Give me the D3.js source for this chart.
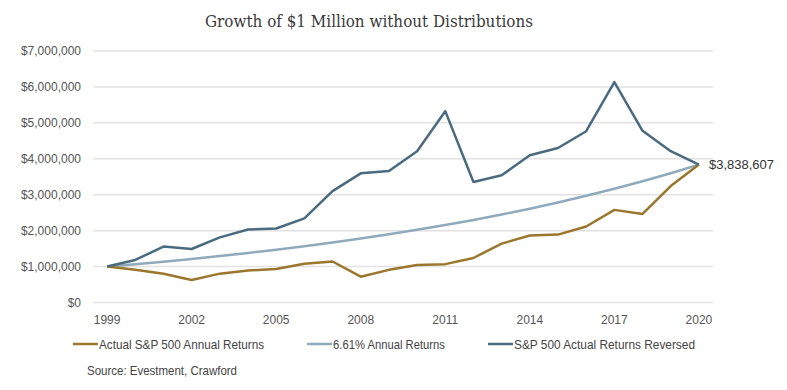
<!DOCTYPE html>
<html>
<head>
<meta charset="utf-8">
<script src="https://cdn.jsdelivr.net/npm/d3@7"></script>
<style>
  body { margin: 0; background: #fff; }
  svg { display: block; }
</style>
</head>
<body>
<div id="chart"></div>
<script>
// years on the x axis
var years = [1999, 2000, 2001, 2002, 2003, 2004, 2005, 2006, 2007, 2008, 2009,
             2010, 2011, 2012, 2013, 2014, 2015, 2016, 2017, 2018, 2019, 2020];

// growth of $1M
var actualReturns = [1000000, 909000, 800900, 623900, 802900, 890200, 933900, 1081400,
                     1140800, 718700, 908800, 1045700, 1067800, 1238600, 1639800, 1864300,
                     1890000, 2116100, 2578000, 2465100, 3241400, 3838607];
var flatReturns = [1000000, 1066100, 1136600, 1211700, 1291800, 1377200, 1468200, 1565300,
                   1668800, 1779100, 1896700, 2022000, 2155700, 2298200, 2450100, 2612100,
                   2784700, 2968800, 3165100, 3374300, 3597300, 3838607];
var reversedReturns = [1000000, 1184000, 1556800, 1488600, 1813600, 2030500, 2058600, 2340400,
                       3098400, 3594200, 3660000, 4211200, 5325500, 3355100, 3539300, 4098100,
                       4299300, 4767100, 6134300, 4778600, 4210400, 3838607];

var seriesNames = ["Actual S&P 500 Annual Returns", "6.61% Annual Returns", "S&P 500 Actual Returns Reversed"];
var seriesColors = ["#9b762d", "#8faabb", "#4a6a80"];
var yTicks = [0, 1000000, 2000000, 3000000, 4000000, 5000000, 6000000, 7000000];
var xTicks = [1999, 2002, 2005, 2008, 2011, 2014, 2017, 2020];
var endLabel = "$3,838,607";

var width = 787, height = 390;

var svg = d3.select("#chart").append("svg")
    .attr("width", width)
    .attr("height", height);

var x = d3.scalePoint()
    .domain(years)
    .range([93, 713])
    .padding(0.5);

var y = d3.scaleLinear()
    .domain([0, 7000000])
    .range([302.5, 51]);

// title
svg.append("text")
    .attr("x", 369)
    .attr("y", 27)
    .attr("text-anchor", "middle")
    .style("font-family", "'DejaVu Serif', 'Liberation Serif', serif")
    .style("font-size", "16.5px")
    .style("fill", "#3a3a3a")
    .attr("textLength", 328)
    .attr("lengthAdjust", "spacingAndGlyphs")
    .text("Growth of $1 Million without Distributions");

// gridlines
svg.append("g")
    .selectAll("line")
    .data(yTicks)
    .enter().append("line")
    .attr("x1", 93)
    .attr("x2", 713)
    .attr("y1", function(d) { return y(d); })
    .attr("y2", function(d) { return y(d); })
    .style("stroke", "#e2e2e2")
    .style("stroke-width", 1.5);

// y axis labels
var fmt = d3.format("$,");
svg.append("g")
    .selectAll("text")
    .data(yTicks)
    .enter().append("text")
    .attr("x", 81)
    .attr("y", function(d) { return y(d); })
    .attr("dy", "0.35em")
    .attr("text-anchor", "end")
    .style("font-family", "'Liberation Sans', Arial, sans-serif")
    .style("font-size", "12px")
    .style("fill", "#555")
    .text(function(d) { return fmt(d); });

// x axis labels
svg.append("g")
    .selectAll("text")
    .data(xTicks)
    .enter().append("text")
    .attr("x", function(d) { return x(d); })
    .attr("y", 320)
    .attr("dy", "0.35em")
    .attr("text-anchor", "middle")
    .style("font-family", "'Liberation Sans', Arial, sans-serif")
    .style("font-size", "12px")
    .style("fill", "#555")
    .text(function(d) { return d; });

// lines
var line = d3.line()
    .x(function(d, i) { return x(years[i]); })
    .y(function(d) { return y(d); });

var allSeries = [actualReturns, flatReturns, reversedReturns];
var drawOrder = [1, 0, 2];

drawOrder.forEach(function(k) {
    svg.append("path")
        .datum(allSeries[k])
        .attr("d", line)
        .style("fill", "none")
        .style("stroke", seriesColors[k])
        .style("stroke-width", 2.5)
        .style("stroke-linejoin", "round");
});

// end value label
svg.append("text")
    .attr("x", 709)
    .attr("y", y(3838607))
    .attr("dy", "0.35em")
    .style("font-family", "'Liberation Sans', Arial, sans-serif")
    .style("font-size", "13px")
    .style("fill", "#333")
    .text(endLabel);

// legend
var legendX = [73, 307, 488];
var legendW = [165, 112, 181];
var legend = svg.append("g")
    .selectAll("g")
    .data(seriesNames)
    .enter().append("g")
    .attr("transform", function(d, i) { return "translate(" + legendX[i] + ",344)"; });

legend.append("line")
    .attr("x1", 0)
    .attr("x2", 25)
    .style("stroke", function(d, i) { return seriesColors[i]; })
    .style("stroke-width", 2.5);

legend.append("text")
    .attr("x", 26)
    .attr("dy", "0.35em")
    .style("font-family", "'Liberation Sans Narrow', 'Liberation Sans', Arial, sans-serif")
    .style("font-size", "13px")
    .style("fill", "#444")
    .attr("textLength", function(d, i) { return legendW[i]; })
    .attr("lengthAdjust", "spacingAndGlyphs")
    .text(function(d) { return d; });

// source
svg.append("text")
    .attr("x", 87)
    .attr("y", 370)
    .attr("dy", "0.35em")
    .style("font-family", "'Liberation Sans Narrow', 'Liberation Sans', Arial, sans-serif")
    .style("font-size", "13px")
    .style("fill", "#444")
    .attr("textLength", 150)
    .attr("lengthAdjust", "spacingAndGlyphs")
    .text("Source: Evestment, Crawford");
</script>
</body>
</html>
